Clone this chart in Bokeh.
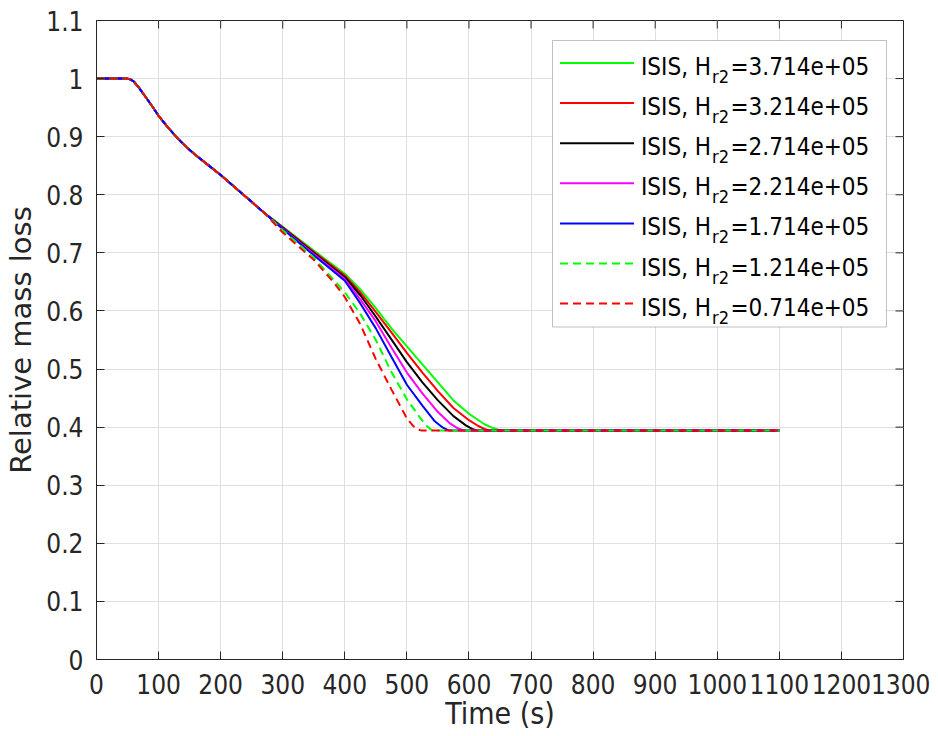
from bokeh.plotting import figure
from bokeh.models import Range1d, FixedTicker, BoxAnnotation, Label
from bokeh.embed import file_html
from bokeh.resources import INLINE

# ---------------- data ----------------
t_common = [0, 48, 54, 60, 68, 80, 90, 100, 115, 130, 145, 160, 180, 200, 240, 270]
m_common = [1.000, 1.000, 0.999, 0.995, 0.985, 0.967, 0.952, 0.936, 0.916, 0.898, 0.882, 0.868, 0.851, 0.834, 0.797, 0.769]

h_labels = ["3.714e+05", "3.214e+05", "2.714e+05", "2.214e+05", "1.714e+05", "1.214e+05", "0.714e+05"]

t_h3714 = [300, 350, 400, 425, 450, 475, 500, 525, 550, 575, 600, 625, 640, 652, 1100]
m_h3714 = [0.745, 0.704, 0.664, 0.637, 0.605, 0.570, 0.539, 0.508, 0.477, 0.446, 0.423, 0.405, 0.398, 0.394, 0.394]

t_h3214 = [300, 350, 400, 425, 450, 475, 500, 525, 550, 575, 600, 615, 625, 634, 1100]
m_h3214 = [0.744, 0.702, 0.661, 0.632, 0.598, 0.563, 0.528, 0.494, 0.462, 0.433, 0.412, 0.402, 0.397, 0.394, 0.394]

t_h2714 = [300, 350, 400, 425, 450, 475, 500, 525, 550, 575, 595, 605, 614, 1100]
m_h2714 = [0.743, 0.700, 0.658, 0.627, 0.590, 0.551, 0.512, 0.477, 0.446, 0.419, 0.403, 0.397, 0.394, 0.394]

t_h2214 = [300, 350, 400, 425, 450, 475, 500, 525, 550, 570, 582, 592, 1100]
m_h2214 = [0.742, 0.698, 0.655, 0.620, 0.582, 0.537, 0.494, 0.458, 0.426, 0.406, 0.398, 0.394, 0.394]

t_h1714 = [300, 350, 400, 425, 450, 475, 500, 525, 545, 558, 568, 1100]
m_h1714 = [0.741, 0.696, 0.652, 0.613, 0.570, 0.521, 0.473, 0.437, 0.410, 0.399, 0.394, 0.394]

t_h1214 = [300, 350, 400, 425, 450, 475, 500, 520, 532, 541, 1100]
m_h1214 = [0.739, 0.692, 0.632, 0.595, 0.550, 0.495, 0.448, 0.418, 0.402, 0.394, 0.394]

t_h0714 = [300, 350, 383, 400, 425, 450, 475, 500, 510, 518, 524, 1100]
m_h0714 = [0.735, 0.688, 0.648, 0.624, 0.577, 0.517, 0.465, 0.415, 0.402, 0.396, 0.394, 0.394]

x_ticks = list(range(0, 1301, 100))
y_ticks = [0, 0.1, 0.2, 0.3, 0.4, 0.5, 0.6, 0.7, 0.8, 0.9, 1.0, 1.1]
y_tick_labels = ["0", "0.1", "0.2", "0.3", "0.4", "0.5", "0.6", "0.7", "0.8", "0.9", "1", "1.1"]

series_t = [t_h3714, t_h3214, t_h2714, t_h2214, t_h1714, t_h1214, t_h0714]
series_m = [m_h3714, m_h3214, m_h2714, m_h2214, m_h1714, m_h1214, m_h0714]
colors = ["#00ff00", "#ff0000", "#000000", "#ff00ff", "#0000ff", "#00ff00", "#ff0000"]
dashes = ["solid", "solid", "solid", "solid", "solid", "8 5", "8 5"]

# ---------------- styling ----------------
FONT = "DejaVu Sans Condensed"
TXT = "#262626"
W, H = 930, 736
ML, MR, MT, MB = 96, 27, 20, 77
X_MAX, Y_MAX = 1300, 1.1
TICK = 8

p = figure(width=W, height=H, output_backend="svg", toolbar_location=None,
           x_range=Range1d(0, X_MAX), y_range=Range1d(0, Y_MAX),
           min_border_left=ML, min_border_right=MR, min_border_top=MT, min_border_bottom=MB,
           x_axis_label="Time (s)", y_axis_label="Relative mass loss")
p.background_fill_color = "white"
p.border_fill_color = "white"
p.outline_line_color = TXT
p.outline_line_width = 1

p.xaxis.ticker = FixedTicker(ticks=x_ticks)
p.yaxis.ticker = FixedTicker(ticks=y_ticks)
p.yaxis.major_label_overrides = {v: s for v, s in zip(y_ticks, y_tick_labels)}
p.xgrid.ticker = FixedTicker(ticks=x_ticks)
p.ygrid.ticker = FixedTicker(ticks=y_ticks)
for g in (p.xgrid, p.ygrid):
    g.grid_line_color = "#dfdfdf"
    g.grid_line_width = 1

for ax in (p.xaxis, p.yaxis):
    ax.major_tick_in = TICK
    ax.major_tick_out = 0
    ax.minor_tick_line_color = None
    ax.axis_line_color = TXT
    ax.major_tick_line_color = TXT
    ax.major_label_text_font = FONT
    ax.major_label_text_font_size = "26px"
    ax.major_label_text_color = TXT
    ax.axis_label_text_font_style = "normal"
    ax.axis_label_text_color = TXT
p.xaxis.axis_label_text_font = FONT
p.xaxis.axis_label_text_font_size = "30px"
p.yaxis.axis_label_text_font = "DejaVu Sans"
p.yaxis.axis_label_text_font_size = "29px"
p.xaxis.major_label_standoff = 14
p.xaxis.axis_label_standoff = -1
p.yaxis.major_label_standoff = 13
p.yaxis.axis_label_standoff = 5

# frame geometry (figure px) for the box ticks and the legend
FW = W - ML - MR
FH = H - MT - MB
dx_px = X_MAX / FW
dy_px = Y_MAX / FH

# inward ticks on the top and right box edges, from the tick arrays
p.segment(x0=x_ticks, y0=[Y_MAX] * len(x_ticks), x1=x_ticks, y1=[Y_MAX - TICK * dy_px] * len(x_ticks),
          line_color=TXT, line_width=1)
p.segment(x0=[X_MAX] * len(y_ticks), y0=y_ticks, x1=[X_MAX - TICK * dx_px] * len(y_ticks), y1=y_ticks,
          line_color=TXT, line_width=1)

# ---------------- data lines ----------------
for ts, ms, c, d in zip(series_t, series_m, colors, dashes):
    p.line(t_common + ts, m_common + ms, line_color=c, line_width=2, line_dash=d)

# ---------------- manual legend (frame pixel layout -> data units) ----------------
def xd(px):  # px measured from frame left
    return px * dx_px
def yd(py):  # px measured from frame top
    return Y_MAX - py * dy_px

p.add_layout(BoxAnnotation(left=xd(456), right=xd(790), top=yd(20), bottom=yd(306.5),
                           fill_color="white", fill_alpha=1, line_color="#333333",
                           line_width=1, level="underlay"))
row0, step = 42.5, 40.1
TX = 544.5
for i, (lab, c, d) in enumerate(zip(h_labels, colors, dashes)):
    ly = row0 + step * i
    p.line([xd(463.5), xd(537.5)], [yd(ly), yd(ly)], line_color=c, line_width=2, line_dash=d)
    p.add_layout(Label(x=xd(TX), y=yd(ly + 4), text="ISIS, H", text_font=FONT,
                       text_font_size="24px", text_color="black", text_baseline="alphabetic"))
    p.add_layout(Label(x=xd(TX + 71), y=yd(ly + 13.5), text="r2", text_font=FONT,
                       text_font_size="18px", text_color="black", text_baseline="alphabetic"))
    p.add_layout(Label(x=xd(TX + 89.5), y=yd(ly + 4), text="=" + lab, text_font=FONT,
                       text_font_size="24px", text_color="black", text_baseline="alphabetic"))

open("out.html", "w").write(file_html(p, INLINE))
